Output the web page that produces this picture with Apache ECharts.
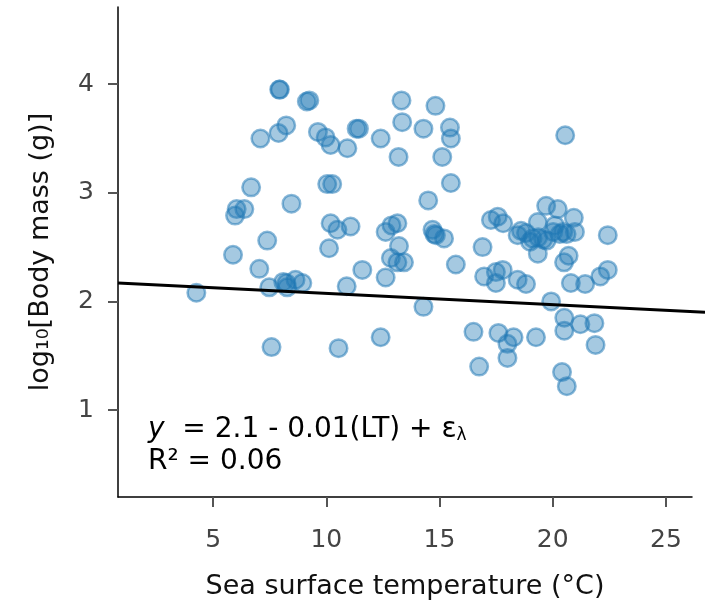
<!DOCTYPE html>
<html>
<head>
<meta charset="utf-8">
<script src="https://cdn.jsdelivr.net/npm/echarts@6/dist/echarts.min.js"></script>
<style>
  html, body { margin: 0; padding: 0; background: #fff; }
  #chart { width: 705px; height: 610px; }
</style>
</head>
<body>
<div id="chart"></div>
<script>
// sea surface temperature (°C)
var sst = [
  4.26, 5.88, 5.97, 6.04, 6.38, 6.68, 7.09, 7.04, 7.39, 7.48,
  7.58, 7.89, 7.92, 7.95, 8.23, 8.10, 8.24, 8.27, 8.46, 8.64,
  8.94, 9.14, 9.25, 9.63, 9.97, 10.04, 10.26, 10.12, 10.19, 10.19,
  10.49, 10.54, 10.90, 10.93, 11.07, 11.34, 11.44, 11.59, 12.40, 12.40,
  12.62, 12.62, 12.85, 12.88, 13.14, 13.14, 13.43, 13.21, 13.19, 13.32,
  13.35, 14.29, 14.29, 14.50, 14.69, 14.77, 14.84, 14.82, 15.12, 15.20,
  15.46, 15.50, 15.50, 15.72, 16.50, 16.75, 16.90, 16.97, 17.27, 17.57,
  17.49, 17.79, 17.49, 17.60, 17.81, 18.00, 18.00, 18.27, 18.45, 18.82,
  18.45, 18.82, 19.11, 19.34, 19.34, 19.26, 19.71, 19.93, 20.22, 20.10,
  20.93, 20.55, 19.36, 19.58, 19.73, 20.02, 20.31, 20.46, 20.61, 20.98,
  20.50, 20.70, 20.80, 21.43, 22.10, 22.43, 22.43, 20.51, 20.51, 21.22,
  21.84, 21.89, 20.41, 20.62, 18.60, 19.00
];
// log10 body mass (g)
var mass = [
  2.08, 2.43, 2.79, 2.85, 2.85, 3.05, 3.50, 2.30, 2.56, 2.13,
  1.58, 3.55, 3.95, 3.95, 3.62, 2.18, 2.17, 2.13, 2.90, 2.20,
  2.17, 3.84, 3.85, 3.56, 3.51, 3.08, 3.08, 2.49, 3.44, 2.72,
  2.66, 1.57, 2.14, 3.41, 2.69, 3.59, 3.59, 2.29, 3.50, 1.67,
  2.64, 2.22, 2.40, 2.70, 2.72, 2.36, 2.36, 2.51, 3.33, 3.85,
  3.65, 3.59, 1.95, 2.93, 2.66, 2.62, 2.61, 3.80, 3.33, 2.58,
  3.60, 3.50, 3.09, 2.34, 1.72, 1.40, 2.50, 2.23, 2.75, 2.78,
  2.27, 2.29, 2.17, 1.71, 2.72, 1.61, 1.48, 1.67, 2.61, 2.63,
  2.20, 2.16, 2.58, 2.44, 2.73, 1.67, 2.88, 2.00, 2.85, 2.70,
  2.77, 3.53, 2.59, 2.57, 2.56, 2.64, 2.62, 2.64, 2.62, 2.64,
  2.36, 2.42, 2.17, 2.16, 2.23, 2.29, 2.61, 1.85, 1.73, 1.79,
  1.80, 1.60, 1.35, 1.22, 2.65, 2.55
];
// fitted line end points
var fitX = [0.8, 26.75];
var fitY = [2.17, 1.90];

var xTicks = [5, 10, 15, 20, 25];
var yTicks = [1, 2, 3, 4];

var points = sst.map(function (x, i) { return [x, mass[i]]; });
var fit = fitX.map(function (x, i) { return [x, fitY[i]]; });

var font = 'DejaVu Sans';
var chart = echarts.init(document.getElementById('chart'));
chart.setOption({
  animation: false,
  grid: [
    { left: 118, right: 13, top: 7, bottom: 113 },
    // same scale, reaching to the right edge, for the fitted line
    { left: 118, right: 0, top: 7, bottom: 113 }
  ],
  xAxis: [
    {
      type: 'value',
      gridIndex: 0,
      min: 0.8,
      max: 26.15,
      name: 'Sea surface temperature (°C)',
      nameLocation: 'middle',
      nameGap: 76,
      nameTextStyle: { fontFamily: font, fontSize: 27, color: '#111' },
      axisLine: { show: true, onZero: false, lineStyle: { color: '#000', width: 1.5 } },
      axisTick: { show: true, length: 10, customValues: xTicks, lineStyle: { color: '#555', width: 2 } },
      axisLabel: { customValues: xTicks, margin: 31, fontFamily: font, fontSize: 25, color: '#444' },
      splitLine: { show: false }
    },
    {
      type: 'value',
      gridIndex: 1,
      min: 0.8,
      max: 26.75,
      show: false
    }
  ],
  yAxis: [
    {
      type: 'value',
      gridIndex: 0,
      min: 0.2,
      max: 4.71,
      name: 'log₁₀[Body mass (g)]',
      nameLocation: 'middle',
      nameGap: 64,
      nameRotate: 90,
      nameTextStyle: { fontFamily: font, fontSize: 27, color: '#111' },
      axisLine: { show: true, onZero: false, lineStyle: { color: '#000', width: 1.5 } },
      axisTick: { show: true, length: 10, customValues: yTicks, lineStyle: { color: '#555', width: 2 } },
      axisLabel: { customValues: yTicks, margin: 24, fontFamily: font, fontSize: 25, color: '#444' },
      splitLine: { show: false }
    },
    {
      type: 'value',
      gridIndex: 1,
      min: 0.2,
      max: 4.71,
      show: false
    }
  ],
  series: [
    {
      type: 'scatter',
      xAxisIndex: 0,
      yAxisIndex: 0,
      data: points,
      symbol: 'circle',
      symbolSize: 17.5,
      itemStyle: {
        color: 'rgba(31,119,180,0.5)',
        borderColor: 'rgba(31,119,180,0.65)',
        borderWidth: 2.5
      },
      z: 2
    },
    {
      type: 'line',
      xAxisIndex: 1,
      yAxisIndex: 1,
      data: fit,
      showSymbol: false,
      symbol: 'none',
      lineStyle: { color: '#000', width: 3 },
      z: 3
    }
  ],
  graphic: [
    {
      type: 'text',
      left: 148,
      top: 416,
      style: {
        text: '{i|y}  = 2.1 - 0.01(LT) + ε{s|λ}',
        fontFamily: font,
        fontSize: 28,
        fill: '#000',
        rich: {
          i: { fontFamily: font, fontSize: 28, fontStyle: 'italic', fill: '#000' },
          s: { fontFamily: font, fontSize: 17, fill: '#000', verticalAlign: 'bottom', padding: [12, 0, 0, 0] }
        }
      }
    },
    {
      type: 'text',
      left: 148,
      top: 448,
      style: {
        text: 'R² = 0.06',
        fontFamily: font,
        fontSize: 28,
        fill: '#000'
      }
    }
  ]
});
</script>
</body>
</html>
